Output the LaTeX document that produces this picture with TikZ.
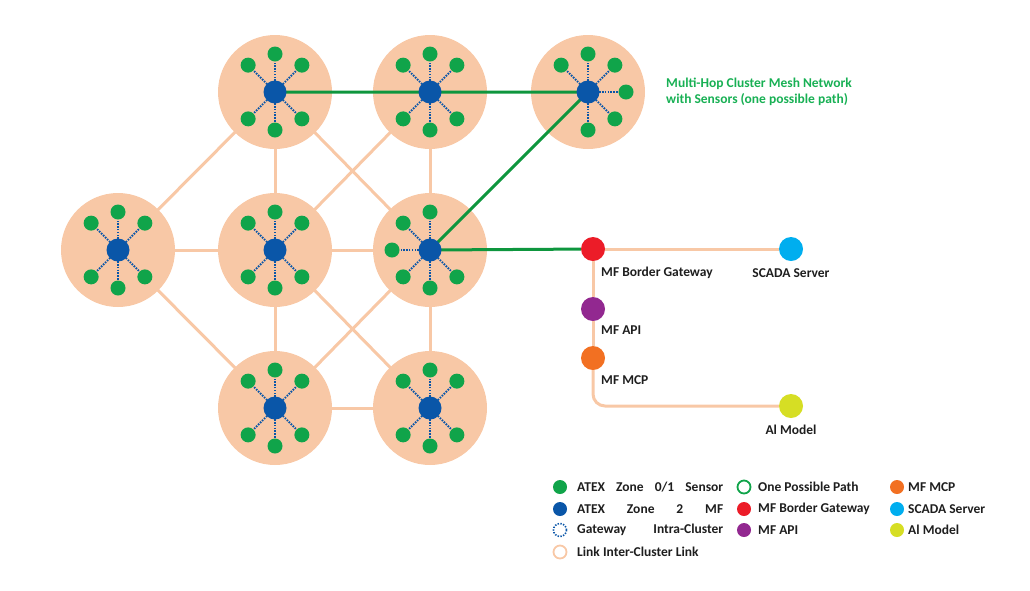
\documentclass[tikz,border=0pt]{standalone}
\usepackage{fontspec}
\setmainfont{Carlito}
\definecolor{peach}{RGB}{248,200,166}
\definecolor{sensgreen}{RGB}{16,164,74}
\definecolor{pathgreen}{RGB}{14,150,62}
\definecolor{titlegreen}{RGB}{24,176,84}
\definecolor{hubblue}{RGB}{10,86,168}
\definecolor{gwred}{RGB}{236,28,40}
\definecolor{apipurple}{RGB}{146,40,144}
\definecolor{mcporange}{RGB}{242,112,34}
\definecolor{scadablue}{RGB}{0,174,239}
\definecolor{aiyellow}{RGB}{214,222,36}
\definecolor{txt}{RGB}{30,30,30}
\begin{document}
\begin{tikzpicture}[x=1pt,y=-1pt,
  cluster/.style={circle, fill=peach, minimum size=114pt, inner sep=0pt},
  hub/.style={circle, fill=hubblue, minimum size=23pt, inner sep=0pt},
  sensor/.style={circle, fill=sensgreen, minimum size=15pt, inner sep=0pt},
  intra/.style={draw=hubblue, line width=1.9pt, dash pattern=on 1.5pt off 1.3pt},
  inter/.style={draw=peach, line width=3pt},
  hop/.style={draw=pathgreen, line width=3pt},
  svc/.style={circle, minimum size=24pt, inner sep=0pt},
  lbl/.style={font=\bfseries\fontsize{13.5}{16}\selectfont, text=txt, inner sep=0pt},
  lgsym/.style={circle, minimum size=14pt, inner sep=0pt},
]
\useasboundingbox (0,0) rectangle (1030,590);

% cluster centres
\coordinate (A) at (275,92);
\coordinate (B) at (430,92);
\coordinate (C) at (588,92);
\coordinate (D) at (118,250);
\coordinate (E) at (275,250);
\coordinate (F) at (430,250);
\coordinate (G) at (275,408);
\coordinate (H) at (430,408);

% inter-cluster links
\foreach \p/\q in {A/D,A/E,A/F,B/E,B/F,D/E,E/F,D/G,E/G,E/H,F/G,F/H,G/H}
  \draw[inter] (\p) -- (\q);

% cluster discs
\foreach \n in {A,B,C,D,E,F,G,H}
  \node[cluster] (\n-c) at (\n) {};

% sensors and intra-cluster links
\foreach \n/\x/\y/\angs in {
  A/275/92/{45,90,135,225,270,315},
  B/430/92/{45,90,135,225,270,315},
  C/588/92/{0,45,90,135,270,315},
  D/118/250/{45,90,135,225,270,315},
  E/275/250/{45,90,135,225,270,315},
  F/430/250/{90,135,180,225,270,315},
  G/275/408/{45,90,135,225,270,315},
  H/430/408/{45,90,135,225,270,315}}{
  \foreach \a in \angs {
    \node[sensor] (\n-s\a) at ({\x+38*cos(\a)},{\y-38*sin(\a)}) {};
    \draw[intra] (\n) -- (\n-s\a);
  }
}

% services
\node[svc, fill=gwred] (gw) at (593,249) {};
\node[svc, fill=scadablue] (scada) at (791,249) {};
\node[svc, fill=apipurple] (api) at (593,309) {};
\node[svc, fill=mcporange] (mcp) at (593,358) {};
\node[svc, fill=aiyellow] (ai) at (791,406) {};

\draw[inter] (gw) -- (scada);
\draw[inter] (gw) -- (api);
\draw[inter] (api) -- (mcp);
\draw[inter, rounded corners=12pt] (mcp.south) |- (ai);

% one possible path
\draw[hop] (A) -- (B) -- (C) -- (F);
\draw[hop] (F) -- (gw);

% hubs
\foreach \n in {A,B,C,D,E,F,G,H}
  \node[hub] (\n-h) at (\n) {};

% service labels
\node[lbl, anchor=west] (gwl) at (601,273) {MF Border Gateway};
\node[lbl] (scadal) at (791,273) {SCADA Server};
\node[lbl, anchor=west] (apil) at (601,330) {MF API};
\node[lbl, anchor=west] (mcpl) at (601,380) {MF MCP};
\node[lbl] (ail) at (791,430) {Al Model};

% title
\node[lbl, text=titlegreen, anchor=north west, align=left] (title) at (666,78)
  {Multi-Hop Cluster Mesh Network\\with Sensors (one possible path)};

% legend
\node[lgsym, fill=sensgreen] (lg1) at (560,487) {};
\node[lbl, anchor=west] (lt1) at (577,487) {\makebox[146pt][s]{ATEX\hfill Zone\hfill 0/1\hfill Sensor}};
\node[lgsym, fill=hubblue] (lg2) at (560,509) {};
\node[lbl, anchor=west] (lt2) at (577,509) {\makebox[146pt][s]{ATEX\hfill Zone\hfill 2\hfill MF}};
\node[lgsym, draw=hubblue, line width=1.6pt, dash pattern=on 1.4pt off 1.4pt, minimum size=13pt] (lg3) at (560,530) {};
\node[lbl, anchor=west] (lt3) at (577,530) {\makebox[146pt][s]{Gateway\hfill Intra-Cluster}};
\node[lgsym, draw=peach, line width=1.8pt, minimum size=13pt] (lg4) at (560,552) {};
\node[lbl, anchor=west] (lt4) at (577,552) {Link Inter-Cluster Link};

\node[lgsym, draw=sensgreen, line width=1.8pt, minimum size=13pt] (lg5) at (744,487) {};
\node[lbl, anchor=west] (lt5) at (758,487) {One Possible Path};
\node[lgsym, fill=gwred] (lg6) at (744,509) {};
\node[lbl, anchor=west] (lt6) at (758,509) {MF Border Gateway};
\node[lgsym, fill=apipurple] (lg7) at (744,530) {};
\node[lbl, anchor=west] (lt7) at (758,530) {MF API};

\node[lgsym, fill=mcporange] (lg8) at (897,487) {};
\node[lbl, anchor=west] (lt8) at (908,487) {MF MCP};
\node[lgsym, fill=scadablue] (lg9) at (897,509) {};
\node[lbl, anchor=west] (lt9) at (908,509) {SCADA Server};
\node[lgsym, fill=aiyellow] (lg10) at (897,530) {};
\node[lbl, anchor=west] (lt10) at (908,530) {Al Model};
\end{tikzpicture}
\end{document}
